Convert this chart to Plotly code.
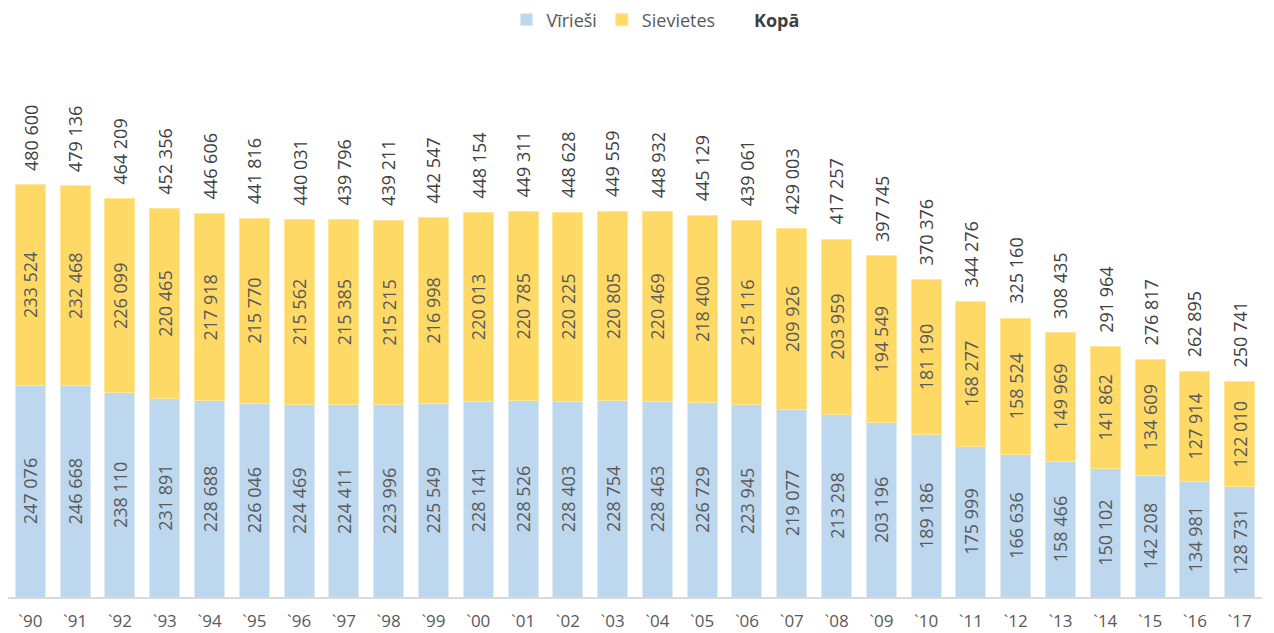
import plotly.graph_objects as go

years = ["`90", "`91", "`92", "`93", "`94", "`95", "`96", "`97", "`98", "`99",
         "`00", "`01", "`02", "`03", "`04", "`05", "`06", "`07", "`08", "`09",
         "`10", "`11", "`12", "`13", "`14", "`15", "`16", "`17"]
men = [247076, 246668, 238110, 231891, 228688, 226046, 224469, 224411, 223996, 225549,
       228141, 228526, 228403, 228754, 228463, 226729, 223945, 219077, 213298, 203196,
       189186, 175999, 166636, 158466, 150102, 142208, 134981, 128731]
women = [233524, 232468, 226099, 220465, 217918, 215770, 215562, 215385, 215215, 216998,
         220013, 220785, 220225, 220805, 220469, 218400, 215116, 209926, 203959, 194549,
         181190, 168277, 158524, 149969, 141862, 134609, 127914, 122010]
totals = [480600, 479136, 464209, 452356, 446606, 441816, 440031, 439796, 439211, 442547,
          448154, 449311, 448628, 449559, 448932, 445129, 439061, 429003, 417257, 397745,
          370376, 344276, 325160, 308435, 291964, 276817, 262895, 250741]


def fmt(v):
    return f"{v:,}".replace(",", " ")


FONT = "Open Sans"
fig = go.Figure()
fig.add_trace(go.Bar(
    x=years, y=men, name="Vīrieši",
    marker=dict(color="#BDD7EE", line=dict(color="#DDEBF7", width=1)),
    text=[fmt(v) for v in men], textposition="inside", textangle=-90,
    insidetextanchor="middle",
    textfont=dict(family=FONT, size=18, color="#595959"),
    hoverinfo="skip",
))
fig.add_trace(go.Bar(
    x=years, y=women, name="Sievietes",
    marker=dict(color="#FFD966", line=dict(color="#FFE699", width=1)),
    text=[fmt(v) for v in women], textposition="inside", textangle=-90,
    insidetextanchor="middle",
    textfont=dict(family=FONT, size=18, color="#595959"),
    hoverinfo="skip",
))

for yr, t in zip(years, totals):
    fig.add_annotation(
        x=yr, y=t, text=fmt(t), textangle=-90, showarrow=False,
        xanchor="center", yanchor="bottom", yshift=12,
        font=dict(family=FONT, size=18, color="#404040"),
    )

fig.add_annotation(
    x=0.613, y=1.0745, xref="paper", yref="paper", text="<b>Kopā</b>",
    showarrow=False, xanchor="center", yanchor="middle",
    font=dict(family=FONT, size=18, color="#404040"),
)

fig.update_layout(
    width=1274, height=633,
    barmode="stack", bargap=0.33,
    plot_bgcolor="white", paper_bgcolor="white",
    margin=dict(l=8, r=12, t=60, b=36, autoexpand=False),
    font=dict(family=FONT, color="#595959"),
    showlegend=True,
    legend=dict(orientation="h", x=0.3975, xanchor="left", y=1.0745, yanchor="middle",
                itemwidth=30,
                font=dict(family=FONT, size=18, color="#595959"), traceorder="normal"),
    xaxis=dict(showline=True, linecolor="#D9D9D9", linewidth=2, ticks="",
               ticklabelstandoff=8, automargin=False,
               tickfont=dict(family=FONT, size=17, color="#595959"),
               showgrid=False),
    yaxis=dict(visible=False, range=[0, 626000], showgrid=False, automargin=False),
)

fig.write_html("out.html", config={"displayModeBar": False},
               post_script="document.body.style.margin='0';document.body.style.overflow='hidden';")
